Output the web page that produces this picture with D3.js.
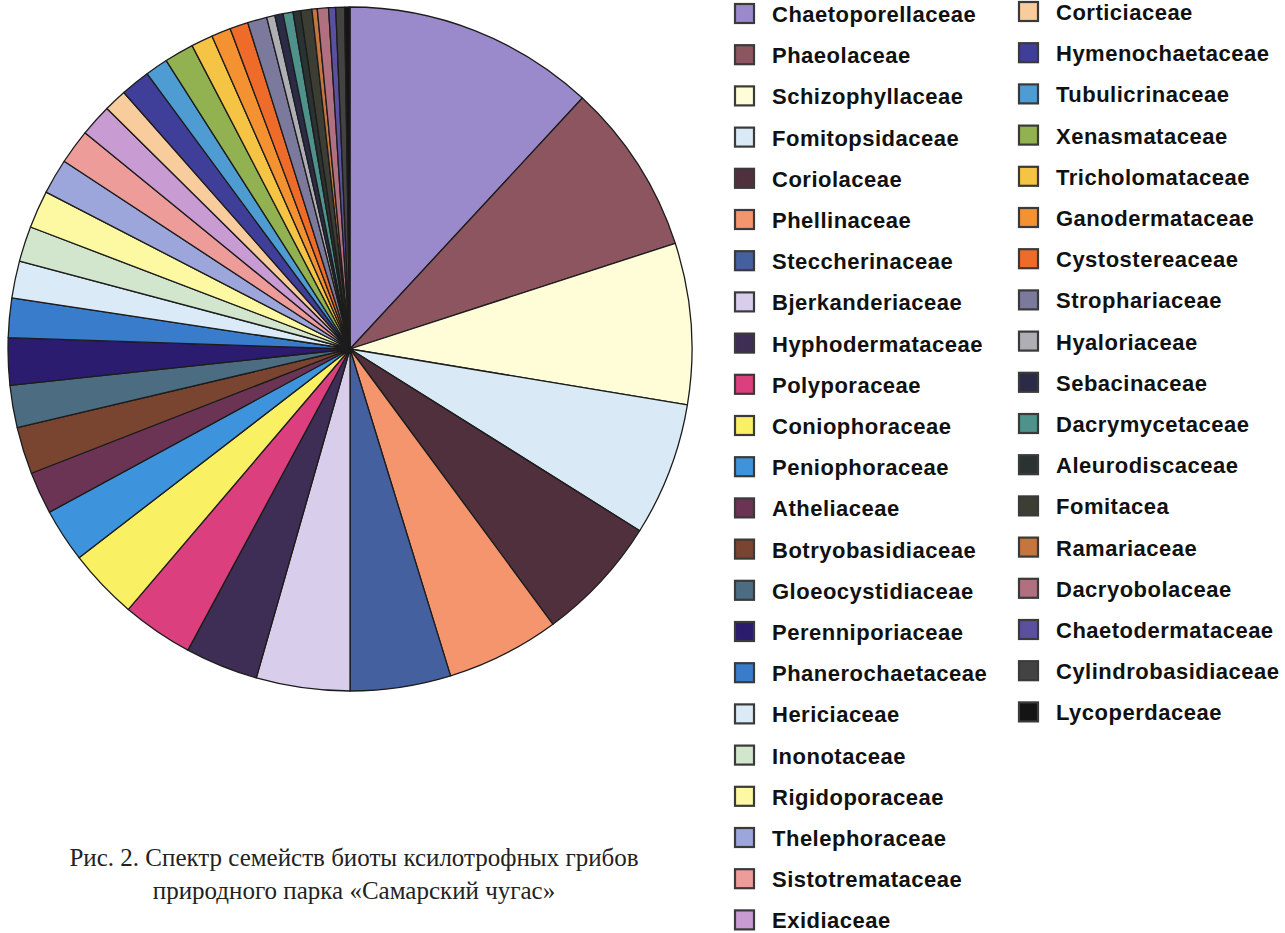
<!DOCTYPE html>
<html>
<head>
<meta charset="utf-8">
<script src="https://cdn.jsdelivr.net/npm/d3@7/dist/d3.min.js"></script>
<style>
  html, body { margin: 0; padding: 0; background: #ffffff; }
  svg { display: block; }
</style>
</head>
<body>
<svg id="chart" width="1285" height="933"></svg>
<script>
// ---- data ----
const families = [
  "Chaetoporellaceae","Phaeolaceae","Schizophyllaceae","Fomitopsidaceae","Coriolaceae",
  "Phellinaceae","Steccherinaceae","Bjerkanderiaceae","Hyphodermataceae","Polyporaceae",
  "Coniophoraceae","Peniophoraceae","Atheliaceae","Botryobasidiaceae","Gloeocystidiaceae",
  "Perenniporiaceae","Phanerochaetaceae","Hericiaceae","Inonotaceae","Rigidoporaceae",
  "Thelephoraceae","Sistotremataceae","Exidiaceae","Corticiaceae","Hymenochaetaceae",
  "Tubulicrinaceae","Xenasmataceae","Tricholomataceae","Ganodermataceae","Cystostereaceae",
  "Strophariaceae","Hyaloriaceae","Sebacinaceae","Dacrymycetaceae","Aleurodiscaceae",
  "Fomitacea","Ramariaceae","Dacryobolaceae","Chaetodermataceae","Cylindrobasidiaceae",
  "Lycoperdaceae"
];
// share of the spectrum
const shares = [
  42.8, 29.2, 27.4, 22.7, 21.5,
  19.3, 17.1, 15.9, 12.4, 12.1,
  12.0, 9.1, 7.2, 8.0, 7.2,
  8.0, 6.7, 6.3, 6.0, 6.4,
  6.0, 5.9, 5.5, 3.9, 5.0,
  3.9, 5.0, 3.7, 3.3, 3.1,
  3.3, 1.4, 1.4, 1.7, 1.3,
  1.9, 0.9, 1.9, 1.2, 1.5,
  0.9
];
const colors = [
  "#9A8ACB","#8C5560","#FFFDD8","#D9EAF6","#50303D",
  "#F4956E","#45609F","#D8CEEB","#3E2D55","#DC3F7D",
  "#FAF064","#3D94DC","#6B3354","#7A4530","#4C6C82",
  "#2C1C70","#3A7CCC","#DAEAF6","#D2E6CE","#FDF8A2",
  "#9CA6DA","#EE9C9A","#C89CD2","#F8CC9C","#3F3F9A",
  "#4E9CD2","#92B252","#F6C444","#F49232","#EF6B2A",
  "#7C7A9C","#AEAEB4","#2B2B48","#4F928C","#2A3232",
  "#3C3E34","#C5763E","#B07080","#5B4FA0","#434343",
  "#141414"
];
const legendLeftCount = 23;
const captionLines = [
  "Рис. 2. Спектр семейств биоты ксилотрофных грибов",
  "природного парка «Самарский чугас»"
];

// ---- drawing ----
const svg = d3.select("#chart");
const cx = 350, cy = 349, R = 342;

const data = families.map((f, i) => ({ name: f, value: shares[i], color: colors[i] }));

const pie = d3.pie().sort(null).value(d => d.value).startAngle(0).endAngle(2 * Math.PI);
const arc = d3.arc().innerRadius(0).outerRadius(R);

const g = svg.append("g").attr("transform", `translate(${cx},${cy})`);
g.selectAll("path")
  .data(pie(data))
  .join("path")
  .attr("d", arc)
  .attr("fill", d => d.data.color)
  .attr("stroke", "#1c1c1c")
  .attr("stroke-width", 1.3)
  .attr("stroke-linejoin", "round");

// legend
const leftRows = d3.scaleLinear().domain([0, 1]).range([14, 55.2]);
const rightRows = d3.scaleLinear().domain([0, 1]).range([12, 53.2]);

const legend = svg.append("g");
const items = legend.selectAll("g.item")
  .data(data)
  .join("g")
  .attr("class", "item")
  .attr("transform", (d, i) => {
    const left = i < legendLeftCount;
    const x = left ? 734 : 1018;
    const y = left ? leftRows(i) : rightRows(i - legendLeftCount);
    return `translate(${x},${y})`;
  });

items.append("rect")
  .attr("x", 1).attr("y", -10)
  .attr("width", 19).attr("height", 19)
  .attr("fill", d => d.color)
  .attr("stroke", "#3a3a3a")
  .attr("stroke-width", 2.2);

items.append("text")
  .attr("x", 38).attr("y", 0)
  .attr("dy", "0.36em")
  .attr("font-family", "'Liberation Sans', Arial, sans-serif")
  .attr("font-weight", "bold")
  .attr("font-size", 22)
  .attr("letter-spacing", 0.5)
  .attr("fill", "#111")
  .text(d => d.name);

// caption
svg.append("g").selectAll("text")
  .data(captionLines)
  .join("text")
  .attr("x", 354)
  .attr("y", (d, i) => 866 + i * 33)
  .attr("text-anchor", "middle")
  .attr("font-family", "'Liberation Serif', 'Times New Roman', serif")
  .attr("font-size", 25)
  .attr("fill", "#222")
  .text(d => d);
</script>
</body>
</html>
